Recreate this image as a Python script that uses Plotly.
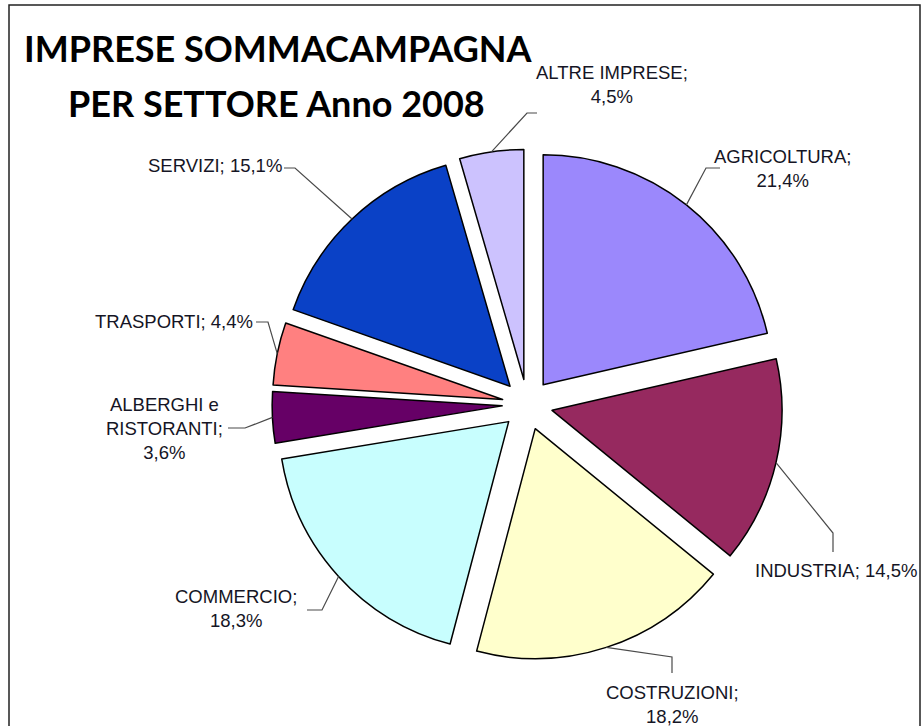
import math
import plotly.graph_objects as go

# ---- data ----
sectors = ["AGRICOLTURA", "INDUSTRIA", "COSTRUZIONI", "COMMERCIO",
           "ALBERGHI e RISTORANTI", "TRASPORTI", "SERVIZI", "ALTRE IMPRESE"]
shares = [21.4, 14.5, 18.2, 18.3, 3.6, 4.4, 15.1, 4.5]
label_texts = ["AGRICOLTURA;<br>21,4%", "INDUSTRIA; 14,5%", "COSTRUZIONI;<br>18,2%",
               "COMMERCIO;<br>18,3%", "ALBERGHI e<br>RISTORANTI;<br>3,6%",
               "TRASPORTI; 4,4%", "SERVIZI; 15,1%", "ALTRE IMPRESE;<br>4,5%"]
title_lines = ["IMPRESE SOMMACAMPAGNA", "PER SETTORE Anno 2008"]

# ---- style ----
colors = ["#9B88FC", "#96295F", "#FFFFCC", "#C8FEFE", "#660066", "#FF8080", "#0A41C6", "#CCC2FE"]
W, H = 923, 726
CX, CY, R, PULL = 527.4, 404.6, 230.0, 0.11

# label placement (pixels): text anchor point, elbow, end of leader
label_pos = [(782, 169, "center"), (836, 570, "center"), (672, 704, "center"),
             (236, 608, "center"), (164, 428, "center"), (255, 322, "right"),
             (284, 166, "right"), (612, 84, "center")]
elbows = [((706, 168), (720, 168)), ((833, 533), (833, 552)), ((672, 657), (672, 673)),
          ((322, 610), (307, 610)), ((245, 428), (228, 428)), ((268, 322), (256, 322)),
          ((295, 168), (284, 168)), ((527, 113), (537, 113))]

half = R * (1 + PULL)
dom_x = [(CX - half) / W, (CX + half) / W]
dom_y = [(H - CY - half) / H, (H - CY + half) / H]

fig = go.Figure(go.Pie(
    labels=sectors, values=shares, sort=False, direction="clockwise", rotation=0,
    marker=dict(colors=colors, line=dict(color="#000000", width=1.5)),
    pull=[PULL] * len(shares), textinfo="none", hoverinfo="label+percent",
    domain=dict(x=dom_x, y=dom_y), showlegend=False,
))

def px(x, y):
    return x / W, 1 - y / H

shapes = []
annotations = []
total = sum(shares)
cum = 0.0
for i, v in enumerate(shares):
    mid = (cum + v / 2) / total * 2 * math.pi
    cum += v
    dx, dy = math.sin(mid), -math.cos(mid)
    p0 = (CX + dx * (R * PULL + R), CY + dy * (R * PULL + R))
    (ex, ey), (tx, ty) = elbows[i]
    pts = [px(*p0), px(ex, ey), px(tx, ty)]
    path = "M {} {} L {} {} L {} {}".format(pts[0][0], pts[0][1], pts[1][0], pts[1][1], pts[2][0], pts[2][1])
    shapes.append(dict(type="path", xref="paper", yref="paper", path=path,
                       line=dict(color="#4a4a4a", width=1.2)))
    lx, ly, anc = label_pos[i]
    annotations.append(dict(x=lx / W, y=1 - ly / H, xref="paper", yref="paper",
                            text=label_texts[i], showarrow=False, xanchor=anc, yanchor="middle",
                            align="center",
                            font=dict(family="Liberation Sans", size=18.5, color="#151525")))

# title
annotations.append(dict(x=278 / W, y=1 - 48 / H, xref="paper", yref="paper", text=title_lines[0],
                        showarrow=False, xanchor="center", yanchor="middle",
                        font=dict(family="Lato", size=36, color="#000000", weight="bold")))
annotations.append(dict(x=276 / W, y=1 - 103 / H, xref="paper", yref="paper", text=title_lines[1],
                        showarrow=False, xanchor="center", yanchor="middle",
                        font=dict(family="Lato", size=36, color="#000000", weight="bold")))

# chart frame
shapes.append(dict(type="rect", xref="paper", yref="paper", x0=9 / W, x1=920 / W,
                   y0=-0.05, y1=1 - 5 / H, line=dict(color="#222222", width=1.5)))

fig.update_layout(width=W, height=H, margin=dict(l=0, r=0, t=0, b=0),
                  paper_bgcolor="white", plot_bgcolor="white",
                  shapes=shapes, annotations=annotations)
fig.write_html("out.html")
